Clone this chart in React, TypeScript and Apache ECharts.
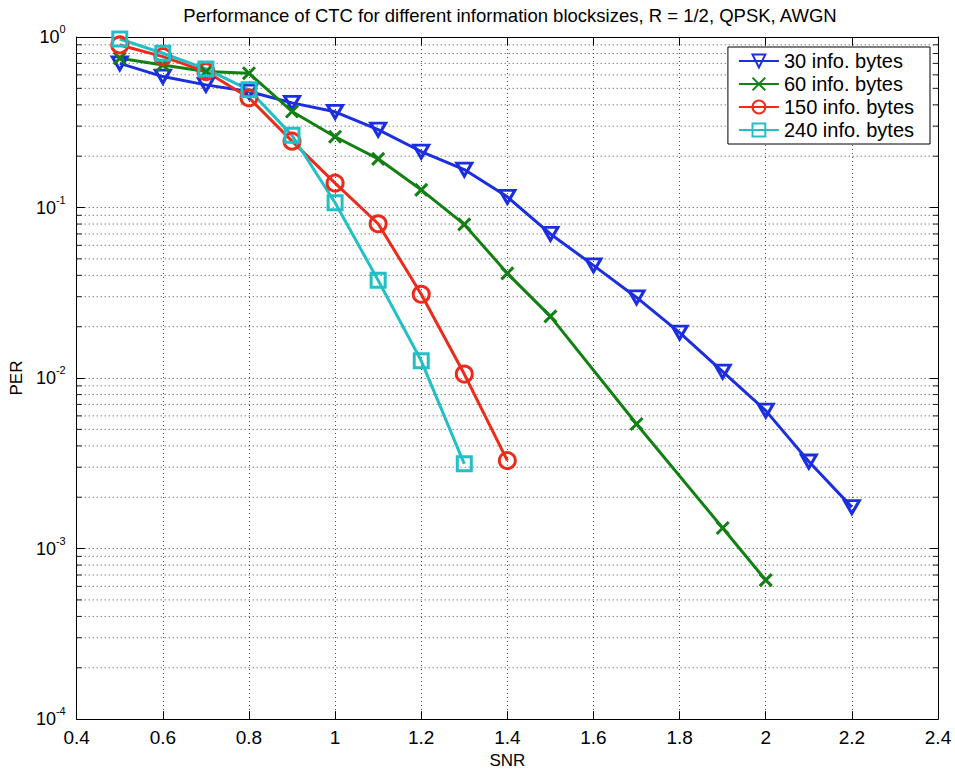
import React, { useEffect, useRef } from "react";
import * as echarts from "echarts";

const TITLE = "Performance of CTC for different information blocksizes, R = 1/2, QPSK, AWGN";
const X_NAME = "SNR";
const Y_NAME = "PER";

const snr30 = [0.5, 0.6, 0.7, 0.8, 0.9, 1.0, 1.1, 1.2, 1.3, 1.4, 1.5, 1.6, 1.7, 1.8, 1.9, 2.0, 2.1, 2.2];
const per30 = [0.70, 0.586, 0.524, 0.479, 0.411, 0.364, 0.286, 0.213, 0.167, 0.1155, 0.070, 0.0458, 0.0297, 0.01845, 0.01091, 0.00644, 0.00324, 0.00175];

const snr60 = [0.5, 0.6, 0.7, 0.8, 0.9, 1.0, 1.1, 1.2, 1.3, 1.4, 1.5, 1.7, 1.9, 2.0];
const per60 = [0.75, 0.686, 0.627, 0.613, 0.366, 0.26, 0.193, 0.127, 0.0796, 0.0411, 0.023, 0.00538, 0.00132, 0.000653];

const snr150 = [0.5, 0.6, 0.7, 0.8, 0.9, 1.0, 1.1, 1.2, 1.3, 1.4];
const per150 = [0.898, 0.767, 0.627, 0.44, 0.245, 0.139, 0.0803, 0.031, 0.01055, 0.00328];

const snr240 = [0.5, 0.6, 0.7, 0.8, 0.9, 1.0, 1.1, 1.2, 1.3];
const per240 = [0.973, 0.803, 0.65, 0.49, 0.265, 0.1066, 0.0374, 0.01262, 0.00314];

const seriesNames = ["30 info. bytes", "60 info. bytes", "150 info. bytes", "240 info. bytes"];
const seriesColors = ["#1b2ee0", "#138013", "#ee2b1b", "#22bfc6"];

const X_MIN = 0.4;
const X_MAX = 2.4;
const X_STEP = 0.2;
const Y_MIN = 1e-4;
const Y_MAX = 1;

// minor log ticks (2..9 x 10^k)
const minorMultipliers = [2, 3, 4, 5, 6, 7, 8, 9];
const decades = [-4, -3, -2, -1];
const minorTicks: number[] = [];
decades.forEach((d) => minorMultipliers.forEach((m) => minorTicks.push(m * Math.pow(10, d))));

const FONT = "'Liberation Sans', Arial, Helvetica, sans-serif";

export default function App() {
  const ref = useRef<HTMLDivElement>(null);

  useEffect(() => {
    if (!ref.current) return;
    const chart = echarts.init(ref.current, null, { renderer: "svg" });

    const mk = (name: string, xs: number[], ys: number[], color: string, symbol: string, size: any) => ({
      name,
      type: "line",
      data: xs.map((x, i) => [x, ys[i]]),
      symbol,
      symbolSize: size,
      showSymbol: true,
      lineStyle: { color, width: 3 },
      itemStyle: { color: "rgba(255,255,255,0)", borderColor: color, borderWidth: 3 },
      emphasis: { disabled: true },
      z: 3,
    });

    const gridSeries = {
      type: "custom",
      silent: true,
      z: 1,
      data: minorTicks.map((v) => [X_MIN, v]),
      renderItem: (params: any, api: any) => {
        const v = api.value(1);
        const p1 = api.coord([X_MIN, v]);
        const p2 = api.coord([X_MAX, v]);
        return {
          type: "group",
          children: [
            {
              type: "line",
              shape: { x1: p1[0], y1: p1[1], x2: p2[0], y2: p2[1] },
              style: { stroke: "#444", lineWidth: 1, lineDash: [1, 3] },
            },
            {
              type: "line",
              shape: { x1: p1[0], y1: p1[1], x2: p1[0] + 5, y2: p1[1] },
              style: { stroke: "#222", lineWidth: 1 },
            },
            {
              type: "line",
              shape: { x1: p2[0] - 5, y1: p2[1], x2: p2[0], y2: p2[1] },
              style: { stroke: "#222", lineWidth: 1 },
            },
          ],
        };
      },
    };

    const axisLineStyle = { color: "#000", width: 1 };
    const splitDotted = { show: true, lineStyle: { color: "#444", width: 1, type: [1, 3] } };

    const option: any = {
      animation: false,
      backgroundColor: "#fff",
      textStyle: { fontFamily: FONT },
      title: {
        text: TITLE,
        left: 505,
        textAlign: "center",
        top: 1,
        textStyle: { fontFamily: FONT, fontSize: 18.5, fontWeight: "normal", color: "#000" },
      },
      legend: {
        orient: "vertical",
        right: 25,
        top: 47,
        data: seriesNames,
        itemWidth: 40,
        itemHeight: 16,
        itemGap: 3,
        padding: [4, 16, 4, 10],
        backgroundColor: "#fff",
        borderColor: "#000",
        borderWidth: 1,
        borderRadius: 0,
        textStyle: { fontFamily: FONT, fontSize: 20, color: "#000" },
      },
      grid: { left: 73, right: 17, top: 37, bottom: 53 },
      xAxis: [
        {
          type: "value",
          min: X_MIN,
          max: X_MAX,
          interval: X_STEP,
          name: X_NAME,
          nameLocation: "middle",
          nameGap: 31,
          nameTextStyle: { fontFamily: FONT, fontSize: 17, color: "#000" },
          axisLine: { show: true, lineStyle: axisLineStyle },
          axisTick: { show: true, inside: true, length: 8, lineStyle: { color: "#000" } },
          axisLabel: {
            fontFamily: FONT,
            fontSize: 19,
            color: "#000",
            margin: 9,
            formatter: (v: number) => String(Math.round(v * 10) / 10),
          },
          splitLine: splitDotted,
        },
        {
          type: "value",
          position: "top",
          min: X_MIN,
          max: X_MAX,
          interval: X_STEP,
          axisLine: { show: true, lineStyle: axisLineStyle },
          axisTick: { show: true, inside: true, length: 8, lineStyle: { color: "#000" } },
          axisLabel: { show: false },
          splitLine: { show: false },
        },
      ],
      yAxis: [
        {
          type: "log",
          logBase: 10,
          min: Y_MIN,
          max: Y_MAX,
          splitNumber: 4,
          name: Y_NAME,
          nameLocation: "middle",
          nameGap: 41,
          nameTextStyle: { fontFamily: FONT, fontSize: 17, color: "#000" },
          axisLine: { show: true, lineStyle: axisLineStyle },
          axisTick: { show: true, inside: true, length: 8, lineStyle: { color: "#000" } },
          axisLabel: {
            margin: 11,
            formatter: (v: number) => {
              const e = Math.round(Math.log10(v));
              return "{b|10}{s|" + e + "}";
            },
            rich: {
              b: { fontFamily: FONT, fontSize: 18, color: "#000" },
              s: { fontFamily: FONT, fontSize: 11, color: "#000", padding: [0, 0, 16, 0] },
            },
          },
          splitLine: splitDotted,
        },
        {
          type: "log",
          logBase: 10,
          min: Y_MIN,
          max: Y_MAX,
          splitNumber: 4,
          position: "right",
          axisLine: { show: true, lineStyle: axisLineStyle },
          axisTick: { show: true, inside: true, length: 8, lineStyle: { color: "#000" } },
          axisLabel: { show: false },
          splitLine: { show: false },
        },
      ],
      series: [
        gridSeries,
        mk(seriesNames[0], snr30, per30, seriesColors[0], "path://M0,0L14,0L7,12Z", [15, 13]),
        mk(seriesNames[1], snr60, per60, seriesColors[1], "path://M0,0L10,10M10,0L0,10", 12),
        mk(seriesNames[2], snr150, per150, seriesColors[2], "circle", 16),
        mk(seriesNames[3], snr240, per240, seriesColors[3], "rect", 14),
      ],
    };

    chart.setOption(option);
    return () => chart.dispose();
  }, []);

  return (
    <div
      ref={ref}
      style={{ position: "fixed", left: 0, top: 0, width: 955, height: 774, background: "#fff" }}
    />
  );
}
